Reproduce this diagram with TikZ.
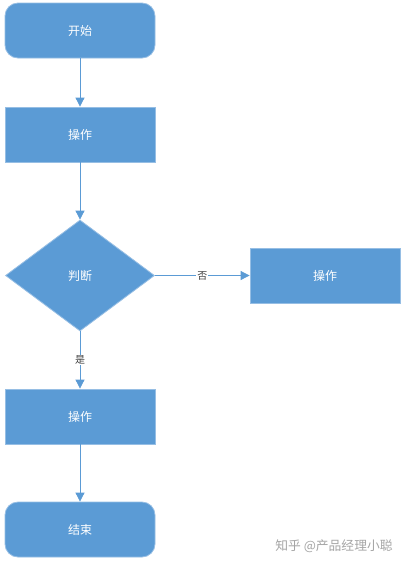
\documentclass[tikz,border=0pt]{standalone}
\usepackage{fontspec}
\newfontfamily\cjk{Noto Sans CJK SC}
\usetikzlibrary{arrows.meta,shapes.geometric,positioning}
\definecolor{flowblue}{RGB}{91,155,213}
\definecolor{flowedge}{RGB}{150,190,228}
\definecolor{markgray}{RGB}{165,165,165}

\tikzset{
	flowbox/.style={draw=flowedge, fill=flowblue, line width=0.8pt, text=white, inner sep=0pt,
		minimum width=150pt, minimum height=55pt, font=\cjk\fontsize{12}{14}\selectfont},
	flowterm/.style={flowbox, rounded corners=13pt},
	flowdec/.style={flowbox, diamond, minimum width=149pt, minimum height=111pt, aspect=1.34},
	flowline/.style={draw=flowblue, line width=0.8pt, -{Triangle[width=9pt,length=9pt]}},
	flowlabel/.style={fill=white, text=black!75, inner sep=1pt, font=\cjk\fontsize{10}{12}\selectfont},
}

\begin{document}
\begin{tikzpicture}[x=1pt,y=1pt,yscale=-1,xscale=1]
	\useasboundingbox (0,0) rectangle (406,566);
	\fill[white] (0,0) rectangle (406,566);
	
	%Rounded Rect
	\node (start) at (80,30.5) [flowterm] {开始};
	%Shape: Rectangle
	\node (opA) at (80,134.5) [flowbox] {操作};
	%Shape: Diamond
	\node (check) at (80,275.5) [flowdec] {判断};
	%Shape: Rectangle
	\node (opNo) at (325,275.5) [flowbox] {操作};
	%Shape: Rectangle
	\node (opB) at (80,416.5) [flowbox] {操作};
	%Rounded Rect
	\node (stop) at (80,529.5) [flowterm] {结束};
	
	%Straight Lines
	\draw [flowline] (start) -- (opA);
	\draw [flowline] (opA) -- (check);
	\draw [flowline] (check.east) -- (opNo.west) node [midway, flowlabel] {否};
	\draw [flowline] (check.south) -- (opB.north) node [midway, flowlabel] {是};
	\draw [flowline] (opB) -- (stop);
	
	% Text Node
	\node (mark) at (334,546) [text=markgray, font=\cjk\fontsize{12.8}{14}\selectfont] {知乎 @产品经理小聪};
\end{tikzpicture}
\end{document}
